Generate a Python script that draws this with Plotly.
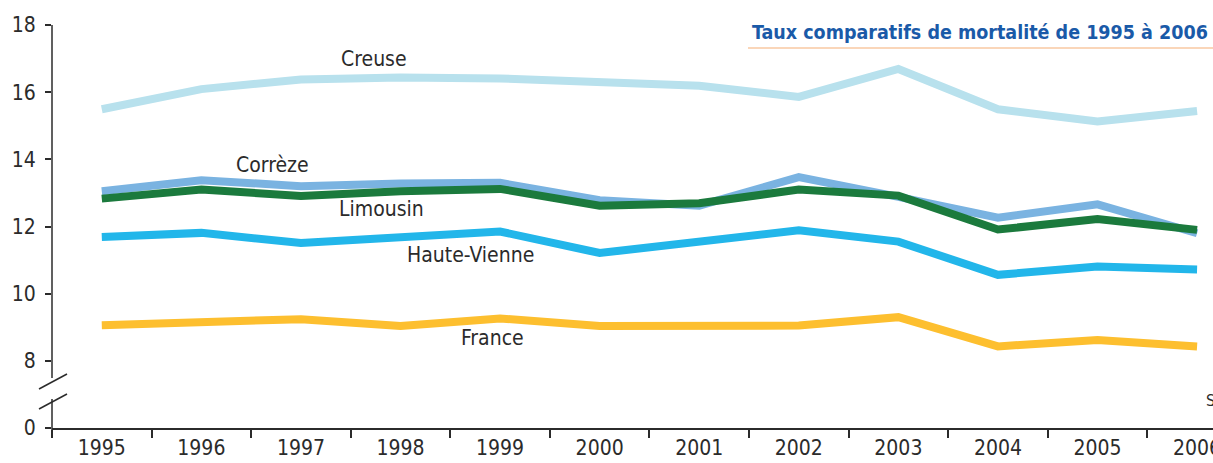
import plotly.graph_objects as go

years = ["1995", "1996", "1997", "1998", "1999", "2000", "2001", "2002", "2003", "2004", "2005", "2006"]
creuse = [15.49, 16.09, 16.38, 16.44, 16.41, 16.28, 16.19, 15.86, 16.69, 15.49, 15.13, 15.44]
correze = [13.05, 13.38, 13.20, 13.28, 13.30, 12.78, 12.62, 13.47, 12.88, 12.26, 12.66, 11.80]
limousin = [12.83, 13.10, 12.91, 13.05, 13.12, 12.62, 12.69, 13.10, 12.92, 11.91, 12.22, 11.90]
haute_vienne = [11.69, 11.81, 11.51, 11.66, 11.85, 11.21, 11.56, 11.89, 11.55, 10.56, 10.81, 10.72]
france = [9.06, 9.14, 9.24, 9.04, 9.26, 9.04, 9.03, 9.05, 9.30, 8.43, 8.62, 8.43]

# y axis is broken: the "0" tick sits where 6 would be
ytick_vals = [6, 8, 10, 12, 14, 16, 18]
ytick_text = ["0", "8", "10", "12", "14", "16", "18"]

FONT = "DejaVu Sans Condensed, Liberation Sans Narrow, sans-serif"
TXT = "#2b2b2b"

series = [
    ("Creuse", creuse, "#b8e1ed"),
    ("Corrèze", correze, "#7ab3e1"),
    ("Limousin", limousin, "#1b7a3d"),
    ("Haute-Vienne", haute_vienne, "#22b6ea"),
    ("France", france, "#fdbf2f"),
]

fig = go.Figure()
for name, vals, col in series:
    fig.add_trace(go.Scatter(x=years, y=vals, mode="lines", name=name,
                             line=dict(color=col, width=8), showlegend=False))

W, H = 1213, 463
L, T, B, R = 52, 25, 35, 0
PW, PH = W - L - R, H - T - B

def px_x(px):
    return (px - L) / PW

def px_y(py):
    return (H - B - py) / PH

# series labels (category index, value)
labels = [("Creuse", 2.73, 16.99), ("Corrèze", 1.71, 13.82), ("Limousin", 2.81, 12.51),
          ("Haute-Vienne", 3.70, 11.16), ("France", 3.92, 8.69)]
for txt, xi, yv in labels:
    fig.add_annotation(x=xi, y=yv, xref="x", yref="y", text=txt, showarrow=False,
                       font=dict(family=FONT, size=21, color=TXT))

fig.add_annotation(x=1, y=px_y(32), xref="paper", yref="paper", xanchor="right", yanchor="middle",
                   xshift=-3, text="<b>Taux comparatifs de mortalité de 1995 à 2006</b>", showarrow=False,
                   font=dict(family=FONT, size=19.5, color="#1a5aa8"))

# start of the source note, visible at the right edge as in the original
fig.add_annotation(x=px_x(1204), y=px_y(400), xref="paper", yref="paper", xanchor="left", yanchor="middle",
                   text="S", showarrow=False, font=dict(family=FONT, size=16, color=TXT))

shapes = [
    # orange underline of title
    dict(type="line", xref="paper", yref="paper", x0=px_x(748), x1=1.0, y0=px_y(48), y1=px_y(48),
         line=dict(color="#f9c9a2", width=1.5)),
    # y axis line with break
    dict(type="line", xref="paper", yref="paper", x0=0, x1=0, y0=px_y(25), y1=px_y(378),
         line=dict(color=TXT, width=1.5)),
    dict(type="line", xref="paper", yref="paper", x0=0, x1=0, y0=px_y(399), y1=px_y(436),
         line=dict(color=TXT, width=1.5)),
    dict(type="line", xref="paper", yref="paper", x0=px_x(39), x1=px_x(67), y0=px_y(389), y1=px_y(374),
         line=dict(color=TXT, width=1.5)),
    dict(type="line", xref="paper", yref="paper", x0=px_x(39), x1=px_x(67), y0=px_y(409), y1=px_y(394),
         line=dict(color=TXT, width=1.5)),
]

fig.update_layout(
    width=W, height=H,
    margin=dict(l=L, r=R, t=T, b=B, pad=0, autoexpand=False),
    paper_bgcolor="white", plot_bgcolor="white",
    shapes=shapes,
    font=dict(family=FONT, color=TXT),
)
fig.update_xaxes(type="category", range=[-0.5, 11.16], tickson="boundaries", ticks="outside",
                 ticklen=8, tickwidth=1.5, tickcolor=TXT, showline=True, linecolor=TXT, linewidth=1.5,
                 showgrid=False, zeroline=False, automargin=False,
                 tickfont=dict(family=FONT, size=21, color=TXT))
fig.update_yaxes(range=[6, 18], tickvals=ytick_vals, ticktext=ytick_text, ticks="outside",
                 ticklen=6, tickwidth=1.5, tickcolor=TXT, showline=False, showgrid=False,
                 zeroline=False, automargin=False, ticklabelstandoff=5,
                 tickfont=dict(family=FONT, size=21, color=TXT))

fig.write_html("out.html",
               post_script="document.body.style.margin='0';document.body.style.overflow='hidden';",
               config={"displayModeBar": False})
